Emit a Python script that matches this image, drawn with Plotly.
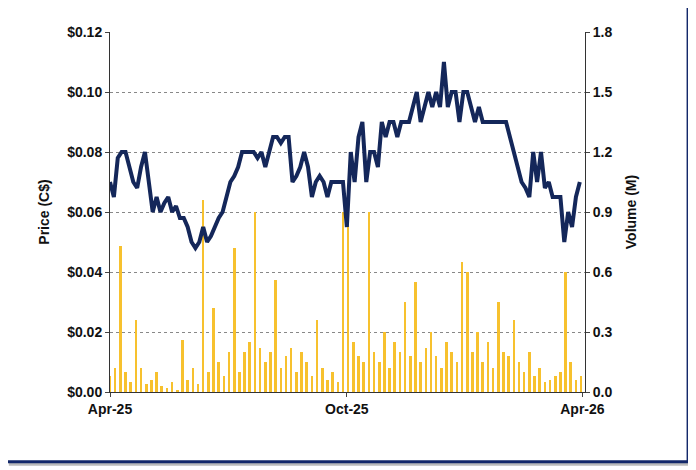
import plotly.graph_objects as go
import pandas as pd

price = [.07,.065,.078,.08,.08,.075,.07,.068,.075,.08,
         .07,.06,.065,.06,.063,.065,.06,.062,.058,.058,
         .055,.05,.048,.05,.055,.05,.052,.055,.058,.06,
         .065,.07,.072,.075,.08,.08,.08,.08,.078,.08,
         .075,.08,.085,.085,.083,.085,.085,.07,.072,.075,
         .08,.075,.065,.07,.072,.07,.065,.07,.07,.07,
         .07,.055,.08,.07,.085,.09,.07,.08,.08,.075,
         .09,.085,.09,.09,.085,.09,.09,.09,.095,.1,
         .09,.095,.1,.095,.1,.095,.11,.095,.1,.1,
         .09,.1,.1,.095,.09,.095,.09,.09,.09,.09,
         .09,.09,.09,.085,.08,.075,.07,.068,.065,.08,
         .07,.08,.068,.07,.065,.065,.065,.05,.06,.055,.065,.07]
price_dates = pd.date_range("2025-04-01", periods=len(price), freq="3D")

volume = [0.08,0.12,0.73,0.1,0.05,0.36,0.12,0.04,0.06,0.1,
          0.03,0.02,0.05,0.01,0.26,0.06,0.12,0.04,0.96,0.1,
          0.42,0.15,0.08,0.2,0.72,0.1,0.2,0.25,0.9,0.22,
          0.15,0.2,0.56,0.12,0.18,0.22,0.1,0.2,0.15,0.08,
          0.36,0.12,0.06,0.1,0.05,0.9,0.9,0.25,0.18,0.15,
          0.9,0.2,0.15,0.3,0.12,0.25,0.2,0.45,0.18,0.55,
          0.15,0.22,0.3,0.18,0.12,0.25,0.2,0.15,0.65,0.6,
          0.2,0.3,0.15,0.25,0.12,0.45,0.2,0.18,0.36,0.15,
          0.1,0.2,0.08,0.12,0.05,0.06,0.08,0.1,0.6,0.15,0.06,0.08]
vol_dates = pd.date_range("2025-04-01", periods=len(volume), freq="4D")

tick_vals = ["2025-04-01", "2025-10-01", "2026-04-01"]
tick_text = ["Apr-25", "Oct-25", "Apr-26"]

fam = "Liberation Sans, Arial"
font = dict(family=fam, size=14, color="#111111", weight="bold")
tfont = dict(family=fam, size=14, color="#111111", weight="bold")

fig = go.Figure()
fig.add_trace(go.Bar(x=vol_dates, y=volume, marker=dict(color="#F7C12E", line=dict(width=0)),
                     width=2*86400000, yaxis="y"))
fig.add_trace(go.Scatter(x=price_dates, y=price, mode="lines",
                         line=dict(color="#14275A", width=4), yaxis="y2"))

fig.update_layout(
    width=696, height=470, showlegend=False, bargap=0,
    paper_bgcolor="white", plot_bgcolor="white",
    margin=dict(l=102, r=119, t=24, b=86),
    font=dict(family=fam, color="#111111"),
    xaxis=dict(range=["2025-04-01", "2026-04-03"], tickvals=tick_vals, ticktext=tick_text,
               tickfont=tfont, showgrid=False,
               showline=True, linecolor="#333", ticks="outside", ticklen=4),
    yaxis=dict(side="right", range=[0, 1.8], tickvals=[0,0.3,0.6,0.9,1.2,1.5,1.8],
               ticktext=["0.0","0.3","0.6","0.9","1.2","1.5","1.8"],
               title=dict(text="Volume (M)", font=font, standoff=14),
               tickfont=tfont, showgrid=False, showline=True, linecolor="#333",
               ticks="outside", ticklen=4, zeroline=False),
    yaxis2=dict(side="left", overlaying="y", range=[0, 0.12],
                tickvals=[0,.02,.04,.06,.08,.10,.12],
                ticktext=["$0.00","$0.02","$0.04","$0.06","$0.08","$0.10","$0.12"],
                title=dict(text="Price (C$)", font=font, standoff=14),
                tickfont=tfont, showgrid=True, gridcolor="#888", griddash="dot",
                showline=True, linecolor="#333", ticks="outside", ticklen=4, zeroline=False),
)
# shadow and frame (paper coords relative to plot area 475x360)
fig.add_shape(type="rect", xref="paper", yref="paper", x0=-0.213, x1=1.225, y0=-0.205, y1=1.064,
              line=dict(width=0), fillcolor="#BBBBBB", layer="below")
fig.add_shape(type="rect", xref="paper", yref="paper", x0=-0.221, x1=1.217, y0=-0.194, y1=1.075,
              line=dict(color="#13286A", width=3), fillcolor="white", layer="below")
fig.write_html("out.html")
